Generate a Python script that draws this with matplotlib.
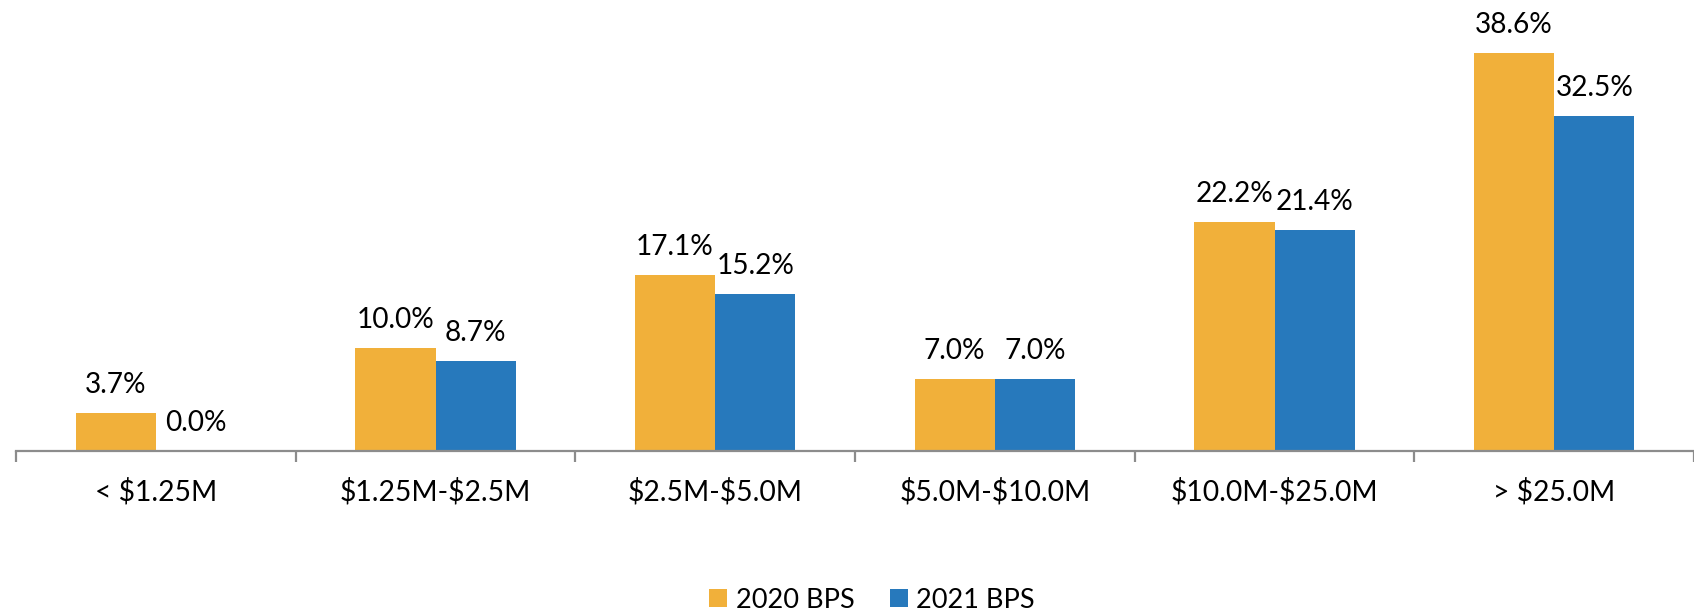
import numpy as np
import matplotlib
matplotlib.use('Agg')
import matplotlib.pyplot as plt

# 数据
categories = ['< $1.25M', '$1.25M-$2.5M', '$2.5M-$5.0M', '$5.0M-$10.0M', '$10.0M-$25.0M', '> $25.0M']
bps_2020 = [3.7, 10.0, 17.1, 7.0, 22.2, 38.6]
bps_2021 = [0.0, 8.7, 15.2, 7.0, 21.4, 32.5]
series_names = ['2020 BPS', '2021 BPS']

plt.rcParams['font.family'] = ['Lato', 'DejaVu Sans']
plt.rcParams['text.parse_math'] = False  # 美元符号不当公式

fig = plt.figure(figsize=(16.94, 6.12), dpi=100)
renderer = fig.canvas.get_renderer()


def fit_size(s, target_px):
    # 按参考图里量到的文字宽度反推字号
    t = fig.text(0, 0, s, fontsize=10)
    w = t.get_window_extent(renderer).width
    t.remove()
    return 10 * target_px / w


lab_fs = fit_size('22.2%', 78)
tick_fs = fit_size('$10.0M-$25.0M', 207)
leg_fs = fit_size('2020 BPS', 118)

# axes runs off the right edge, like the source
ax = fig.add_axes([16 / 1694, 161.3 / 612, (1694 - 16) / 1694, 450.7 / 612])

x = np.arange(len(categories))
w = 0.287
b1 = ax.bar(x - w / 2, bps_2020, w, color='#F1B03A', label=series_names[0])
b2 = ax.bar(x + w / 2, bps_2021, w, color='#2779BC', label=series_names[1])

for bars, vals in [(b1, bps_2020), (b2, bps_2021)]:
    for r, v in zip(bars, vals):
        ax.annotate(f'{v:.1f}%', (r.get_x() + r.get_width() / 2, v),
                    xytext=(0, 14.4), textcoords='offset points',
                    ha='center', va='baseline', fontsize=lab_fs)

ax.set_xlim(-0.5, -0.5 + 1678 / 282)
ax.set_ylim(0, 450.7 / 10.295)

for s in ['top', 'right', 'left']:
    ax.spines[s].set_visible(False)
ax.spines['bottom'].set_color('#8c8c8c')
ax.spines['bottom'].set_linewidth(1.6)
ax.set_yticks([])

# 分组边界刻度 + 类别标签
ax.set_xticks(np.arange(len(categories) + 1) - 0.5)
ax.set_xticklabels([])
ax.tick_params(axis='x', which='major', length=8, width=1.6, color='#8c8c8c', direction='out')
ax.set_xticks(x, minor=True)
ax.set_xticklabels(categories, minor=True, fontsize=tick_fs, va='baseline')
ax.tick_params(axis='x', which='minor', length=0, pad=36)

fig.legend(handles=[b1, b2], labels=series_names, loc='center',
           bbox_to_anchor=(872 / 1694, 12 / 612), ncol=2, frameon=False,
           fontsize=leg_fs, handlelength=0.66, handleheight=0.66,
           handletextpad=0.33, columnspacing=1.3, borderpad=0, borderaxespad=0)

fig.savefig('out.png', dpi=100)
